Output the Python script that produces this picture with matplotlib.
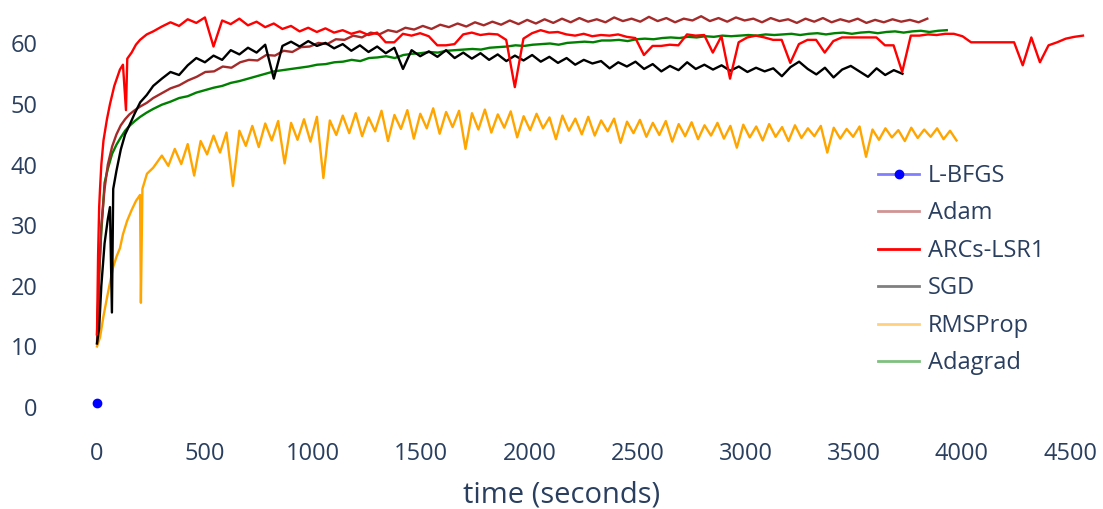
import numpy as np
import matplotlib
matplotlib.use("Agg")
import matplotlib.pyplot as plt
from matplotlib.lines import Line2D

# ---------------- data ----------------
series_names = ["L-BFGS", "Adam", "ARCs-LSR1", "SGD", "RMSProp", "Adagrad"]

lbfgs_t = [0]
lbfgs_y = [0.7]

adam_t_early = [0, 10, 20, 35, 50, 70, 90, 110, 130, 150, 175, 200, 230, 260]
adam_y_early = [10.5, 22, 30, 36, 40, 43, 45, 46.5, 47.5, 48.3, 49.0, 49.6, 50.2, 51.0]
adam_t_late_range = (300, 3840)
adam_y_late = [
    51.8, 52.6, 53.1, 53.9, 54.5, 55.3, 55.4, 56.2, 56.0, 56.9, 57.3, 57.2, 58.1, 58.0,
    58.8, 58.6, 59.4, 59.5, 60.1, 59.9, 60.7, 60.6, 61.3, 61.0, 61.8, 61.5, 62.2, 61.9,
    62.6, 62.3, 62.9, 62.4, 63.1, 62.7, 63.3, 62.8, 63.5, 63.0, 63.6, 63.1, 63.8, 63.2,
    63.9, 63.3, 64.0, 63.4, 64.1, 63.5, 64.2, 63.6, 64.0, 63.5, 64.3, 63.7, 64.1, 63.6,
    64.4, 63.7, 64.2, 63.5, 64.1, 63.8, 64.5, 63.7, 64.2, 63.6, 64.3, 63.8, 64.1, 63.5,
    64.2, 63.7, 64.0, 63.4, 64.1, 63.6, 64.2, 63.5, 64.0, 63.6, 64.1, 63.4, 63.9, 63.5,
    64.0, 63.6, 63.9, 63.5, 64.1]

arcs_t_early = [0, 5, 10, 14, 20, 30, 46, 60, 80, 106, 120, 134, 140, 160, 180, 199, 230, 260]
arcs_y_early = [12, 25, 33, 36, 40, 44, 47.5, 50, 53, 55.7, 56.5, 49, 57.5, 58.5, 59.8,
                60.6, 61.5, 62]
arcs_t_late_range = (300, 4560)
arcs_y_late = [
    62.8, 63.5, 62.9, 64.0, 63.4, 64.3, 59.5, 63.8, 63.2, 64.1, 63.0, 63.6, 62.7, 63.3,
    62.4, 62.9, 62.0, 62.6, 61.9, 62.5, 61.8, 62.2, 61.6, 62.0, 61.4, 61.8, 60.2, 60.2,
    61.6, 61.3, 61.7, 61.2, 59.7, 59.7, 59.9, 61.5, 61.8, 61.4, 61.6, 61.5, 60.6, 52.8,
    60.8, 61.7, 62.2, 61.8, 61.9, 61.5, 61.3, 61.6, 61.2, 61.4, 61.3, 61.5, 61.1, 60.9,
    58.1, 59.6, 59.6, 59.8, 59.7, 61.5, 61.3, 61.4, 58.5, 61.2, 54.2, 60.2, 61.0, 61.3,
    61.0, 60.6, 60.6, 56.8, 59.9, 60.6, 60.6, 58.5, 60.4, 61.0, 61.0, 61.0, 61.0, 61.0,
    59.7, 59.7, 55.3, 61.3, 61.3, 61.5, 61.4, 61.6, 61.6, 61.2, 60.2, 60.2, 60.2, 60.2,
    60.2, 60.2, 56.4, 61.0, 56.9, 59.7, 60.2, 60.8, 61.1, 61.3]

sgd_t_early = [0, 10, 20, 35, 50, 60, 69, 75, 90, 110, 130, 150, 175, 200, 230, 260]
sgd_y_early = [10.5, 13, 20, 27, 31, 33, 15.6, 36, 39, 42.5, 45, 46.5, 48.5, 50.3, 51.5, 53]
sgd_t_late_range = (300, 3725)
sgd_y_late = [
    54.2, 55.3, 54.8, 56.4, 57.6, 56.9, 58.0, 57.3, 58.9, 58.2, 59.3, 58.5, 59.8, 54.2,
    59.6, 60.3, 59.5, 60.4, 59.6, 60.1, 59.2, 59.9, 58.8, 59.7, 58.6, 59.5, 58.4, 59.3,
    55.8, 58.9, 57.9, 58.7, 57.8, 58.9, 57.6, 58.5, 57.5, 58.4, 57.3, 58.2, 57.1, 58.0,
    57.2, 58.1, 57.0, 57.8, 56.8, 57.6, 56.5, 57.3, 56.7, 57.1, 55.9, 56.9, 56.2, 57.0,
    55.8, 56.6, 55.4, 56.3, 55.6, 56.9, 55.8, 56.5, 55.7, 56.4, 55.5, 56.2, 55.3, 56.0,
    55.4, 55.9, 54.6, 56.1, 57.0, 55.8, 54.9, 56.0, 54.4, 55.7, 56.3, 55.4, 54.5, 55.9,
    54.8, 55.6, 55.0]

rms_t_early = [0, 14, 30, 46, 60, 74, 90, 106, 120, 139, 160, 180, 199, 203, 210, 231, 260]
rms_y_early = [10, 11.5, 15, 18, 20.5, 23, 24.8, 26.2, 28.5, 30.7, 32.5, 34, 35, 17.2, 36,
               38.5, 39.5]
rms_t_late_range = (300, 3975)
rms_y_late = [
    41.5, 39.8, 42.6, 40.1, 43.4, 38.2, 43.9, 41.7, 44.8, 42.0, 45.3, 36.5, 45.6, 43.1,
    46.4, 42.9, 46.8, 44.0, 47.2, 40.2, 46.9, 44.1, 47.5, 43.8, 47.9, 37.8, 47.3, 44.9,
    48.1, 45.2, 48.5, 44.7, 47.8, 45.5, 48.9, 43.9, 48.2, 45.9, 49.0, 44.3, 48.4, 46.0,
    49.3, 45.1, 48.7, 46.2, 48.9, 42.6, 48.5, 45.8, 49.1, 45.3, 48.3, 46.1, 48.8, 44.5,
    48.0, 45.7, 48.4, 46.0, 47.8, 44.2, 48.1, 45.6, 47.6, 45.0, 47.9, 44.8, 47.3, 45.5,
    47.6, 43.6, 47.1, 45.2, 47.4, 44.6, 46.9, 44.9, 47.2, 43.8, 46.7, 44.7, 47.0, 44.2,
    46.5, 44.8, 46.9, 44.3, 46.4, 42.8, 46.6, 44.5, 46.3, 44.0, 46.7, 44.6, 46.2, 43.9,
    46.5, 44.4, 46.0, 44.7, 46.4, 42.0, 46.1, 44.3, 45.9, 44.6, 46.3, 41.3, 45.8, 44.1,
    46.0, 44.5, 45.7, 43.9, 46.1, 44.4, 45.8, 44.6, 46.0, 44.2, 45.6, 44.0]

ada_t_early = [0, 10, 20, 35, 50, 70, 90, 110, 130, 150, 175, 200, 230, 260]
ada_y_early = [12, 22, 29, 37, 39.3, 41.8, 43.3, 44.5, 45.6, 46.4, 47.2, 47.9, 48.6, 49.2]
ada_t_late_range = (300, 3930)
ada_y_late = [
    49.9, 50.4, 51.0, 51.3, 51.9, 52.3, 52.7, 53.0, 53.5, 53.8, 54.2, 54.6, 55.0, 55.4,
    55.6, 55.8, 56.0, 56.2, 56.5, 56.6, 56.9, 57.0, 57.3, 57.1, 57.6, 57.7, 57.9, 57.6,
    58.1, 58.3, 58.4, 58.6, 58.5, 58.8, 58.9, 59.0, 59.1, 59.0, 59.3, 59.4, 59.5, 59.7,
    59.6, 59.8, 59.9, 60.0, 59.8, 60.1, 60.2, 60.3, 60.2, 60.5, 60.5, 60.6, 60.4, 60.7,
    60.8, 60.7, 60.9, 61.0, 60.9, 61.1, 61.0, 61.2, 61.1, 61.3, 61.2, 61.3, 61.4, 61.3,
    61.5, 61.4, 61.5, 61.6, 61.4, 61.6, 61.7, 61.5, 61.7, 61.8, 61.6, 61.8, 61.9, 61.7,
    61.9, 62.0, 61.8, 62.0, 62.1, 61.9, 62.1, 62.2]

x_ticks = [0, 500, 1000, 1500, 2000, 2500, 3000, 3500, 4000, 4500]
y_ticks = [0, 10, 20, 30, 40, 50, 60]
x_title = "time (seconds)"


def build(t_early, y_early, rng, y_late):
    t_late = np.linspace(rng[0], rng[1], len(y_late))
    return np.concatenate([t_early, t_late]), np.concatenate([y_early, y_late])


# ---------------- figure ----------------
W, H = 1103, 509
fig = plt.figure(figsize=(W / 100, H / 100), dpi=100)
plt.rcParams['font.family'] = ['Open Sans', 'DejaVu Sans']

px_per_unit_x = 973 / 4500.0
px_per_unit_y = (407 - 43.5) / 60.0
ax_l, ax_r, ax_t, ax_b = 42, 1085, 5, 425
ax = fig.add_axes([ax_l / W, 1 - ax_b / H, (ax_r - ax_l) / W, (ax_b - ax_t) / H])
ax.set_xlim((ax_l - 97) / px_per_unit_x, (ax_r - 97) / px_per_unit_x)
ax.set_ylim((407 - ax_b) / px_per_unit_y, (407 - ax_t) / px_per_unit_y)

txt_color = '#2a3f5f'
lw = 1.7

ta, ya = build(adam_t_early, adam_y_early, adam_t_late_range, adam_y_late)
tr, yr = build(arcs_t_early, arcs_y_early, arcs_t_late_range, arcs_y_late)
ts, ys = build(sgd_t_early, sgd_y_early, sgd_t_late_range, sgd_y_late)
to, yo = build(rms_t_early, rms_y_early, rms_t_late_range, rms_y_late)
tg, yg = build(ada_t_early, ada_y_early, ada_t_late_range, ada_y_late)

ax.plot(to, yo, color='#ffa500', lw=lw, zorder=2)
ax.plot(tg, yg, color='#008000', lw=lw, zorder=3)
ax.plot(ta, ya, color='#a52a2a', lw=lw, zorder=4)
ax.plot(ts, ys, color='black', lw=lw, zorder=5)
ax.plot(tr, yr, color='red', lw=lw, zorder=6)
ax.plot(lbfgs_t, lbfgs_y, 'o', color='blue', ms=6, zorder=7)

for s in ax.spines.values():
    s.set_visible(False)
ax.set_xticks(x_ticks)
ax.set_yticks(y_ticks)
ax.tick_params(length=0, labelsize=17, labelcolor=txt_color)
ax.tick_params(axis='y', pad=3)
ax.tick_params(axis='x', pad=12)

fig.text(562 / W, 1 - 495 / H, x_title, ha='center', va='center',
         fontsize=21, color=txt_color)

handles = [
    Line2D([], [], color=(0, 0, 1, 0.5), lw=2, marker='o', markersize=6,
           markerfacecolor='blue', markeredgecolor='blue'),
    Line2D([], [], color='#a52a2a', alpha=0.5, lw=2),
    Line2D([], [], color='red', lw=2),
    Line2D([], [], color='black', alpha=0.5, lw=2),
    Line2D([], [], color='#ffa500', alpha=0.5, lw=2),
    Line2D([], [], color='#008000', alpha=0.5, lw=2),
]
leg = fig.legend(handles, series_names, loc='upper left',
                 bbox_to_anchor=(878 / W, 1 - 164 / H), frameon=False,
                 fontsize=17, labelcolor=txt_color, handlelength=1.75,
                 handletextpad=0.35, labelspacing=0.57, borderpad=0,
                 borderaxespad=0)

fig.savefig("out.png", dpi=100, facecolor='white')
